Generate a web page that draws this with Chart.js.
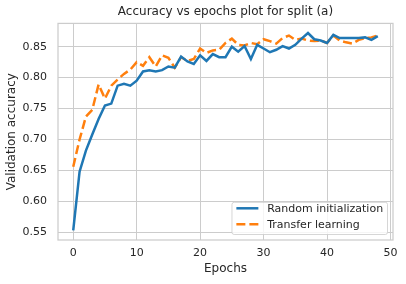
<!DOCTYPE html>
<html>
<head>
<meta charset="utf-8">
<script src="https://cdn.jsdelivr.net/npm/chart.js@4/dist/chart.umd.min.js"></script>
<style>
  html, body { margin: 0; padding: 0; background: #ffffff; }
  #wrap { width: 406px; height: 284px; }
</style>
</head>
<body>
<div id="wrap"><canvas id="c" width="406" height="284"></canvas></div>
<script>
// ---- data ----
const epochs = [0,1,2,3,4,5,6,7,8,9,10,11,12,13,14,15,16,17,18,19,20,21,22,23,24,25,26,27,28,29,30,31,32,33,34,35,36,37,38,39,40,41,42,43,44,45,46,47,48];
const randomInit = [0.553,0.648,0.682,0.708,0.733,0.755,0.758,0.787,0.790,0.787,0.795,0.810,0.812,0.810,0.812,0.818,0.816,0.834,0.826,0.822,0.836,0.827,0.838,0.833,0.833,0.850,0.842,0.851,0.830,0.853,0.847,0.841,0.845,0.851,0.847,0.853,0.863,0.872,0.862,0.860,0.856,0.869,0.864,0.864,0.864,0.864,0.865,0.861,0.867];
const transfer = [0.656,0.700,0.737,0.748,0.789,0.766,0.787,0.797,0.806,0.813,0.825,0.819,0.833,0.818,0.836,0.832,0.816,0.833,0.827,0.830,0.847,0.840,0.844,0.845,0.856,0.863,0.853,0.852,0.856,0.854,0.862,0.859,0.855,0.864,0.868,0.861,0.863,0.860,0.859,0.860,0.856,0.868,0.860,0.857,0.855,0.861,0.864,0.865,0.868];
const xTicks = [0,10,20,30,40,50];
const yTicks = [0.55,0.60,0.65,0.70,0.75,0.80,0.85];
const seriesNames = ['Random initialization','Transfer learning'];
const titleText = 'Accuracy vs epochs plot for split (a)';
const xLabel = 'Epochs';
const yLabel = 'Validation accuracy';

const TEXT = '#262626';
const GRID = '#cccccc';
Chart.defaults.font.family = "'DejaVu Sans', sans-serif";
Chart.defaults.color = TEXT;

const framePlugin = {
  id: 'frame',
  afterDatasetsDraw(chart) {
    const a = chart.chartArea, ctx = chart.ctx;
    ctx.save();
    ctx.strokeStyle = GRID;
    ctx.lineWidth = 1.25;
    ctx.strokeRect(a.left, a.top, a.right - a.left, a.bottom - a.top);
    ctx.restore();
  }
};

const axesTitlePlugin = {
  id: 'axesTitle',
  afterDraw(chart) {
    const a = chart.chartArea, ctx = chart.ctx;
    const t = chart.options.plugins.axesTitle;
    ctx.save();
    ctx.font = "12px 'DejaVu Sans', sans-serif";
    ctx.fillStyle = TEXT;
    ctx.textAlign = 'center';
    ctx.textBaseline = 'middle';
    ctx.fillText(t.text, (a.left + a.right) / 2, 12);
    ctx.restore();
  }
};

const legendPlugin = {
  id: 'mplLegend',
  afterDraw(chart) {
    const a = chart.chartArea, ctx = chart.ctx;
    const fs = 11;
    ctx.save();
    ctx.font = fs + "px 'DejaVu Sans', sans-serif";
    const ds = chart.data.datasets;
    let tw = 0;
    ds.forEach(d => { tw = Math.max(tw, ctx.measureText(d.label).width); });
    const pad = 0.4 * fs, hl = 2 * fs, htp = 0.8 * fs;
    const w = 2 * pad + hl + htp + tw;
    const rowH = 16;
    const h = 32.2;
    const right = a.right - 0.5 * fs, bottom = a.bottom - 0.5 * fs;
    const left = right - w, top = bottom - h;
    const r = 2.2;
    ctx.beginPath();
    ctx.moveTo(left + r, top);
    ctx.lineTo(right - r, top);
    ctx.quadraticCurveTo(right, top, right, top + r);
    ctx.lineTo(right, bottom - r);
    ctx.quadraticCurveTo(right, bottom, right - r, bottom);
    ctx.lineTo(left + r, bottom);
    ctx.quadraticCurveTo(left, bottom, left, bottom - r);
    ctx.lineTo(left, top + r);
    ctx.quadraticCurveTo(left, top, left + r, top);
    ctx.closePath();
    ctx.fillStyle = 'rgba(255,255,255,0.8)';
    ctx.fill();
    ctx.strokeStyle = 'rgba(204,204,204,0.8)';
    ctx.lineWidth = 1;
    ctx.stroke();
    ds.forEach((d, i) => {
      const cy = top + 6 + i * rowH;
      ctx.beginPath();
      ctx.setLineDash(d.borderDash || []);
      ctx.strokeStyle = d.borderColor;
      ctx.lineWidth = d.borderWidth;
      ctx.moveTo(left + pad, cy);
      ctx.lineTo(left + pad + hl, cy);
      ctx.stroke();
      ctx.setLineDash([]);
      ctx.fillStyle = TEXT;
      ctx.textBaseline = 'middle';
      ctx.textAlign = 'left';
      ctx.fillText(d.label, left + pad + hl + htp, cy + 0.5);
    });
    ctx.restore();
  }
};

const toPts = (arr) => epochs.map((e, i) => ({x: e, y: arr[i]}));

new Chart(document.getElementById('c'), {
  type: 'line',
  data: {
    datasets: [
      { label: seriesNames[0], data: toPts(randomInit), borderColor: '#1f77b4', backgroundColor: '#1f77b4', borderWidth: 2.5, pointRadius: 0, tension: 0, fill: false },
      { label: seriesNames[1], data: toPts(transfer), borderColor: '#ff7f0e', backgroundColor: '#ff7f0e', borderWidth: 2.5, borderDash: [9, 4], pointRadius: 0, tension: 0, fill: false }
    ]
  },
  options: {
    responsive: false,
    animation: false,
    devicePixelRatio: 1,
    layout: { padding: { left: 0, right: 13, top: 23.4, bottom: 0 } },
    plugins: {
      legend: { display: false },
      tooltip: { enabled: false },
      title: { display: false },
      axesTitle: { text: titleText }
    },
    scales: {
      x: {
        type: 'linear', min: -2.4, max: 50.4,
        afterBuildTicks: (s) => { s.ticks = xTicks.map(v => ({value: v})); },
        afterFit: (s) => { s.height = 44; },
        grid: { color: GRID, lineWidth: 1, drawTicks: false },
        border: { display: false },
        ticks: { color: TEXT, font: { size: 11 }, padding: 7, maxRotation: 0, callback: (v) => String(v) },
        title: { display: true, text: xLabel, color: TEXT, font: { size: 12 }, padding: { top: 0, bottom: 7.5 } }
      },
      y: {
        type: 'linear', min: 0.5376, max: 0.8876,
        afterBuildTicks: (s) => { s.ticks = yTicks.map(v => ({value: v})); },
        afterFit: (s) => { s.width = 58; },
        grid: { color: GRID, lineWidth: 1, drawTicks: false },
        border: { display: false },
        ticks: { color: TEXT, font: { size: 11 }, padding: 11, callback: (v) => Number(v).toFixed(2) },
        title: { display: true, text: yLabel, color: TEXT, font: { size: 12 }, padding: { top: 5, bottom: 0 } }
      }
    }
  },
  plugins: [framePlugin, axesTitlePlugin, legendPlugin]
});
</script>
</body>
</html>
